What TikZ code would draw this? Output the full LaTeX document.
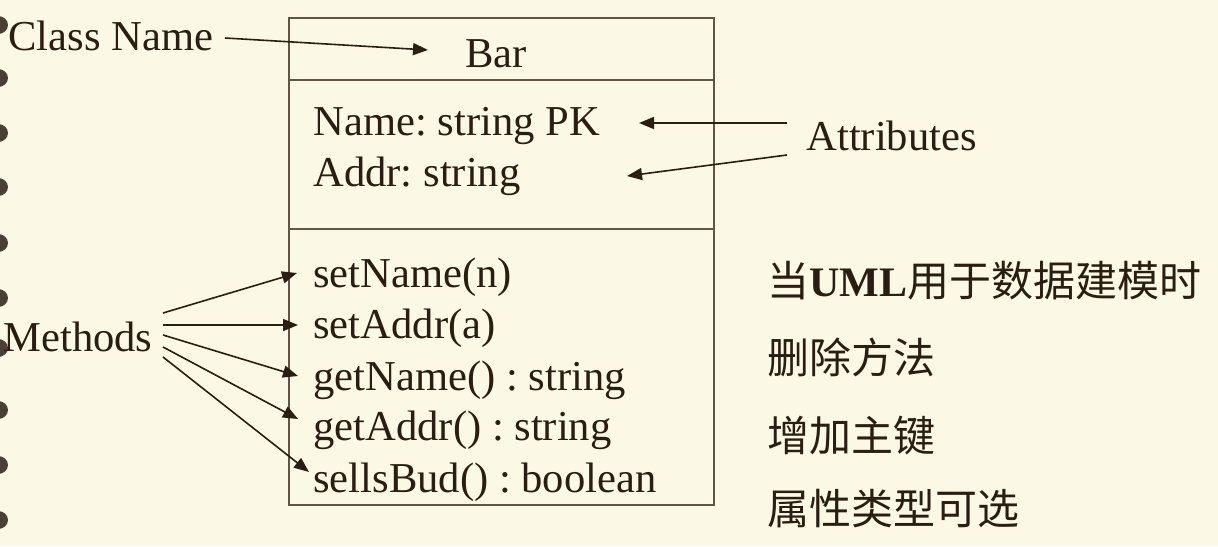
\documentclass[tikz,border=0pt]{standalone}
\usepackage{fontspec}
\setmainfont{Liberation Serif}
\newfontfamily\cjk{Noto Sans CJK SC}
\usetikzlibrary{arrows.meta}
\definecolor{bgc}{RGB}{251,248,230}
\definecolor{ink}{RGB}{42,30,18}
\definecolor{boxc}{RGB}{95,85,68}
\tikzset{
  txt/.style={anchor=base west,inner sep=0pt,text=ink,font=\fontsize{21.3}{25}\selectfont\frenchspacing},
  cjktxt/.style={anchor=base west,inner sep=0pt,text=ink,font=\fontsize{21}{25}\selectfont\cjk},
  arr/.style={draw=ink,line width=0.8pt,-{Triangle[length=7.5pt,width=6pt]}},
  boxline/.style={draw=boxc,line width=0.9pt},
  ring/.style={fill=ink!85,draw=none}
}
\begin{document}
\begin{tikzpicture}[x=0.5pt,y=-0.5pt]
\useasboundingbox (0,0) rectangle (1218,546);
\fill[bgc] (0,0) rectangle (1218,546);
% left edge dots
\begin{scope}
\clip (0,0) rectangle (1218,546);
\foreach \yy in {25,78,133,187,243,298,348,410,465,520}
  \fill[ring] (-2,\yy) ellipse (10 and 9);
\end{scope}
% class box
\node[boxline,minimum width=212.5pt,minimum height=243.5pt,anchor=north west,inner sep=0pt] (box) at (288,17) {};
\coordinate (d1l) at (288,80); \coordinate (d1r) at (713,80);
\coordinate (d2l) at (288,229); \coordinate (d2r) at (713,229);
\draw[boxline] (d1l) -- (d1r);
\draw[boxline] (d2l) -- (d2r);
% texts
\node[txt] (cname) at (8,50) {Class Name};
\node[txt] (bar) at (465,67) {Bar};
\node[txt] (a1) at (313,135) {Name: string PK};
\node[txt] (a2) at (313,186) {Addr: string};
\node[txt] (attr) at (806,150) {Attributes};
\node[txt] (meth) at (3,351) {Methods};
\node[txt] (m1) at (313,287) {setName(n)};
\node[txt] (m2) at (313,338) {setAddr(a)};
\node[txt] (m3) at (313,390) {getName() : string};
\node[txt] (m4) at (313,440) {getAddr() : string};
\node[txt] (m5) at (313,492) {sellsBud() : boolean};
\node[cjktxt] (c1) at (767,296) {当\textbf{\rmfamily UML}用于数据建模时};
\node[cjktxt] (c2) at (767,373) {删除方法};
\node[cjktxt] (c3) at (767,451) {增加主键};
\node[cjktxt] (c4) at (767,524) {属性类型可选};
% arrow endpoints
\coordinate (cnS) at (225,38); \coordinate (cnT) at (428,50);
\coordinate (atS1) at (787,123); \coordinate (atT1) at (639,123);
\coordinate (atS2) at (787,155); \coordinate (atT2) at (627,176);
\coordinate (mS1) at (163,313); \coordinate (mT1) at (297,273);
\coordinate (mS2) at (163,325); \coordinate (mT2) at (298,325);
\coordinate (mS3) at (163,335); \coordinate (mT3) at (298,376);
\coordinate (mS4) at (163,347); \coordinate (mT4) at (298,419);
\coordinate (mS5) at (163,357); \coordinate (mT5) at (309,472);
\draw[arr] (cnS) -- (cnT);
\draw[arr] (atS1) -- (atT1);
\draw[arr] (atS2) -- (atT2);
\draw[arr] (mS1) -- (mT1);
\draw[arr] (mS2) -- (mT2);
\draw[arr] (mS3) -- (mT3);
\draw[arr] (mS4) -- (mT4);
\draw[arr] (mS5) -- (mT5);
\end{tikzpicture}
\end{document}
